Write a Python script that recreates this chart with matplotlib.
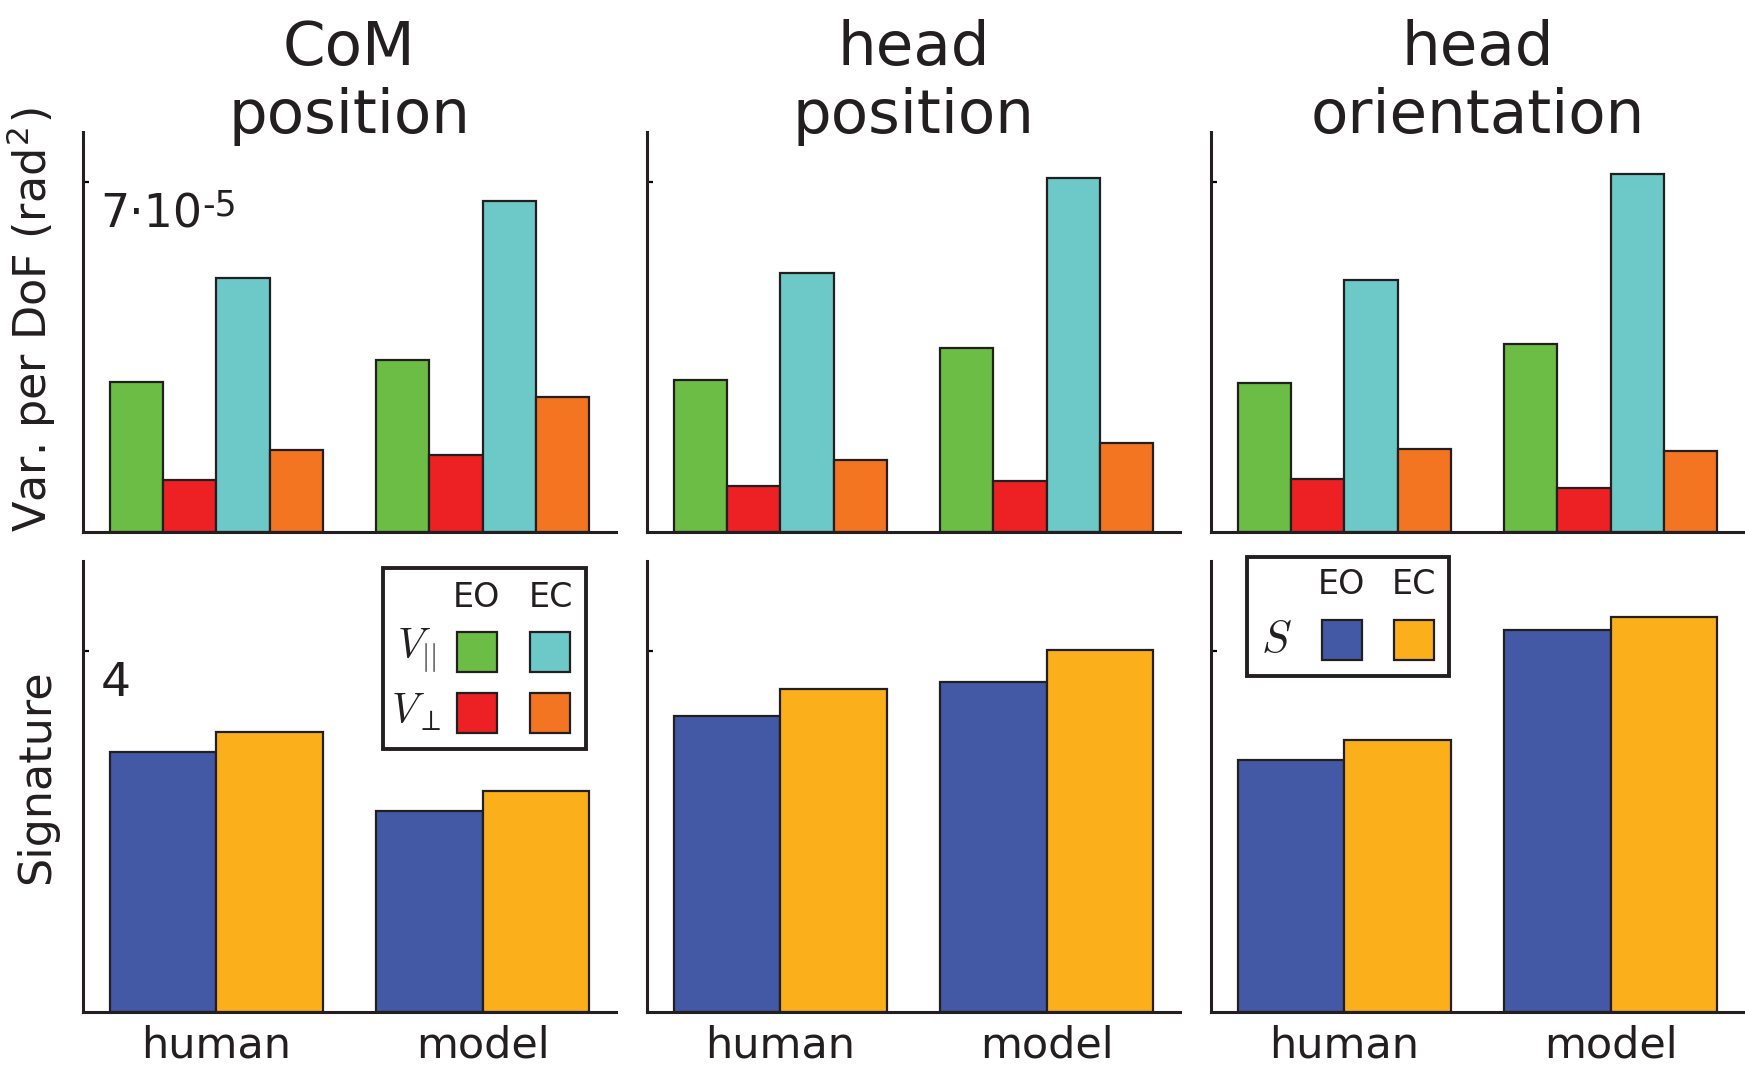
import numpy as np
import matplotlib.pyplot as plt
from matplotlib.patches import Rectangle

plt.rcParams['font.family'] = 'DejaVu Sans'
plt.rcParams['mathtext.fontset'] = 'cm'

panel_titles = ["CoM\nposition", "head\nposition", "head\norientation"]
groups = ["human", "model"]

# variance per DoF in units of 1e-5 rad^2, one [human, model] pair per panel
vpar_eo = [[3.00, 3.44], [3.04, 3.68], [2.97, 3.75]]
vperp_eo = [[1.04, 1.55], [0.93, 1.02], [1.07, 0.89]]
vpar_ec = [[5.08, 6.61], [5.17, 7.08], [5.04, 7.15]]
vperp_ec = [[1.64, 2.71], [1.44, 1.78], [1.66, 1.62]]

# signature S, eyes open / eyes closed
sig_eo = [[2.88, 2.23], [3.28, 3.66], [2.79, 4.23]]
sig_ec = [[3.10, 2.45], [3.58, 4.01], [3.01, 4.38]]

green = '#6BBD45'
red = '#ED2024'
cyan = '#6DC9C8'
orange = '#F37421'
blue = '#4459A5'
yellow = '#FBB01B'
ink = '#231f20'

W, H = 1745, 1066
fig = plt.figure(figsize=(W / 100, H / 100), dpi=100)

lefts = [83, 647, 1211]
width = 533
x = np.arange(1, len(groups) + 1)
lw = 1.6


def style_axes(ax):
    for s in ['top', 'right']:
        ax.spines[s].set_visible(False)
    for s in ['left', 'bottom']:
        ax.spines[s].set_linewidth(2.2)
        ax.spines[s].set_color(ink)
    ax.set_xlim(0.5, 2.5)
    ax.tick_params(axis='y', direction='in', length=4, width=1.6, labelleft=False)
    ax.tick_params(axis='x', length=0)


def legend_box(ax, x0, y0, x1, y1):
    ax.add_patch(Rectangle((x0, y0), x1 - x0, y1 - y0, transform=ax.transAxes,
                           facecolor='white', edgecolor=ink, lw=2.8,
                           zorder=5, clip_on=False))


def legend_square(ax, xs, ys, color):
    ax.add_patch(Rectangle((xs, ys), 0.075, 0.089, transform=ax.transAxes,
                           facecolor=color, edgecolor=ink, lw=1.6,
                           zorder=6, clip_on=False))


def legend_text(ax, xt, yt, s, size=24):
    ax.text(xt, yt, s, transform=ax.transAxes, fontsize=size,
            ha='center', va='center', zorder=7, color=ink)


for i in range(3):
    # variance panel
    ax = fig.add_axes([lefts[i] / W, (H - 532) / H, width / W, 400 / H])
    bw = 0.2
    ax.bar(x - 1.5 * bw, vpar_eo[i], bw, color=green, edgecolor=ink, lw=lw)
    ax.bar(x - 0.5 * bw, vperp_eo[i], bw, color=red, edgecolor=ink, lw=lw)
    ax.bar(x + 0.5 * bw, vpar_ec[i], bw, color=cyan, edgecolor=ink, lw=lw)
    ax.bar(x + 1.5 * bw, vperp_ec[i], bw, color=orange, edgecolor=ink, lw=lw)
    ax.set_ylim(0, 8)
    ax.set_yticks([7])
    ax.set_xticks([])
    style_axes(ax)
    ax.text(0.5, 0.965, panel_titles[i], transform=ax.transAxes,
            ha='center', va='bottom', fontsize=44, linespacing=1.2, color=ink)
    if i == 0:
        t = ax.text(0.033, 0.76, '7·10', transform=ax.transAxes, fontsize=33,
                    va='baseline', ha='left', color=ink)
        ax.annotate('-5', xy=(1.0, 0.5), xycoords=t, fontsize=25,
                    va='baseline', ha='left', color=ink)
        ax.set_ylabel('Var. per DoF (rad$^{\\mathregular{2}}$)', fontsize=32, color=ink)
        ax.yaxis.set_label_coords(-0.046, 0.53)

    # signature panel
    ax2 = fig.add_axes([lefts[i] / W, (H - 1012) / H, width / W, 451 / H])
    bw = 0.4
    ax2.bar(x - 0.5 * bw, sig_eo[i], bw, color=blue, edgecolor=ink, lw=lw)
    ax2.bar(x + 0.5 * bw, sig_ec[i], bw, color=yellow, edgecolor=ink, lw=lw)
    ax2.set_ylim(0, 5)
    ax2.set_yticks([4])
    ax2.set_xticks(x)
    ax2.set_xticklabels(groups, fontsize=31, color=ink)
    style_axes(ax2)
    ax2.tick_params(axis='x', pad=9)
    if i == 0:
        ax2.text(0.033, 0.70, '4', transform=ax2.transAxes, fontsize=34,
                 va='baseline', ha='left', color=ink)
        ax2.set_ylabel('Signature', fontsize=32, color=ink)
        ax2.yaxis.set_label_coords(-0.046, 0.522)

        # variance legend
        legend_box(ax2, 0.563, 0.583, 0.944, 0.984)
        legend_text(ax2, 0.739, 0.919, 'EO')
        legend_text(ax2, 0.877, 0.919, 'EC')
        legend_square(ax2, 0.702, 0.754, green)
        legend_square(ax2, 0.839, 0.754, cyan)
        legend_square(ax2, 0.702, 0.619, red)
        legend_square(ax2, 0.839, 0.619, orange)
        legend_text(ax2, 0.625, 0.80, r'$V_{||}$', size=30)
        legend_text(ax2, 0.625, 0.665, r'$V_{\perp}$', size=30)
    if i == 2:
        # signature legend
        legend_box(ax2, 0.068, 0.746, 0.447, 1.008)
        legend_text(ax2, 0.245, 0.949, 'EO')
        legend_text(ax2, 0.380, 0.949, 'EC')
        legend_square(ax2, 0.208, 0.780, blue)
        legend_square(ax2, 0.343, 0.780, yellow)
        legend_text(ax2, 0.122, 0.825, r'$S$', size=32)

fig.savefig('out.png', dpi=100)
